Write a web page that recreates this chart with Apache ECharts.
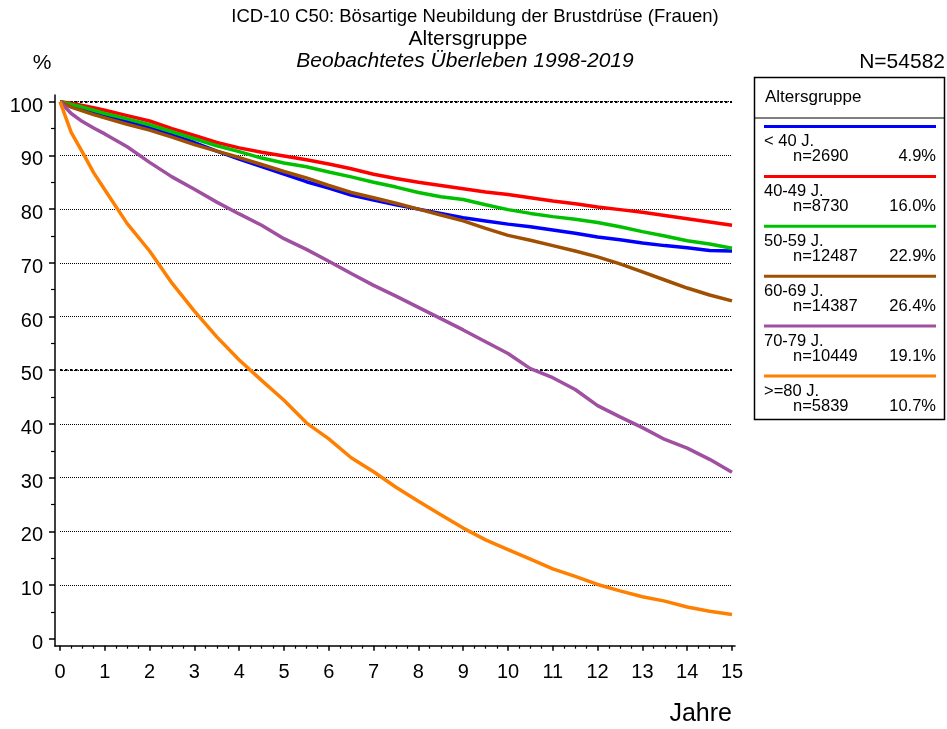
<!DOCTYPE html>
<html>
<head>
<meta charset="utf-8">
<script src="https://cdn.jsdelivr.net/npm/echarts@6/dist/echarts.min.js"></script>
<style>
html,body{margin:0;padding:0;background:#fff;}
#chart{width:947px;height:729px;}
</style>
</head>
<body>
<div id="chart"></div>
<script>
// ---- data ----
const years = [0,0.25,0.5,0.75,1,1.5,2,2.5,3,3.5,4,4.5,5,5.5,6,6.5,7,7.5,8,8.5,9,9.5,10,10.5,11,11.5,12,12.5,13,13.5,14,14.5,15];
const under40 = [100,99.4,98.8,98.1,97.4,96.3,95.1,93.8,92.4,90.8,89.3,87.9,86.5,85.1,83.9,82.6,81.7,80.8,80.0,79.2,78.4,77.8,77.2,76.7,76.1,75.5,74.8,74.3,73.7,73.2,72.8,72.3,72.2];
const age40_49 = [100,99.7,99.3,98.9,98.4,97.4,96.4,95.0,93.7,92.4,91.4,90.6,89.9,89.2,88.4,87.5,86.5,85.7,85.0,84.4,83.8,83.2,82.7,82.1,81.5,81.0,80.4,79.9,79.4,78.8,78.2,77.6,77.0];
const age50_59 = [100,99.5,99.0,98.4,97.8,96.8,95.7,94.4,93.1,91.8,90.7,89.5,88.6,87.9,86.9,86.0,85.0,84.1,83.1,82.3,81.8,80.8,79.9,79.2,78.6,78.1,77.5,76.7,75.8,75.0,74.1,73.5,72.7];
const age60_69 = [100,99.0,98.3,97.6,97.0,95.8,94.7,93.4,92.0,90.8,89.6,88.3,87.0,85.8,84.4,83.1,82.1,81.1,80.0,78.9,77.8,76.4,75.1,74.2,73.2,72.2,71.1,69.8,68.3,66.8,65.3,64.0,62.9];
const age70_79 = [100,97.8,96.3,95.1,94.0,91.6,88.7,86.0,83.7,81.3,79.1,77.0,74.5,72.5,70.3,68.0,65.8,63.8,61.7,59.6,57.5,55.3,53.1,50.3,48.6,46.4,43.4,41.3,39.3,37.1,35.5,33.4,31.0];
const age80plus = [100,94.3,90.6,86.8,83.6,77.3,72.2,66.2,61.0,56.2,51.9,48.1,44.4,40.2,37.2,33.7,31.1,28.2,25.6,23.1,20.6,18.4,16.6,14.8,13.0,11.6,10.1,8.9,7.8,7.0,5.9,5.1,4.5];

const groupLabels = ['< 40 J.','40-49 J.','50-59 J.','60-69 J.','70-79 J.','>=80 J.'];
const groupN = [2690, 8730, 12487, 14387, 10449, 5839];
const groupPct = ['4.9%','16.0%','22.9%','26.4%','19.1%','10.7%'];
const totalN = 54582;
const titleLines = ['ICD-10 C50: Bösartige Neubildung der Brustdrüse (Frauen)','Altersgruppe','Beobachtetes Überleben 1998-2019'];
const xName = 'Jahre';
const yName = '%';
const legendTitle = 'Altersgruppe';

// ---- styles ----
const seriesValues = [under40, age40_49, age50_59, age60_69, age70_79, age80plus];
const colors = ['#0000FF','#FF0000','#00C000','#A05000','#A050A0','#FF8000'];
const FONT = 'Liberation Sans, Arial, sans-serif';

const chart = echarts.init(document.getElementById('chart'), null, {renderer:'canvas'});

const series = seriesValues.map((vals, i) => ({
  type: 'line',
  name: groupLabels[i],
  xAxisIndex: 0, yAxisIndex: 0,
  data: years.map((t, k) => [t, vals[k]]),
  symbol: 'none',
  lineStyle: {color: colors[i], width: 3.5},
  itemStyle: {color: colors[i]},
  animation: false,
  z: 5 + i
}));

const graphics = [];
graphics.push({type:'text', x:475, y:17, style:{text:titleLines[0], fill:'#000', font:'18.5px ' + FONT, textAlign:'center', textVerticalAlign:'middle'}});
graphics.push({type:'text', x:468, y:39, style:{text:titleLines[1], fill:'#000', font:'21px ' + FONT, textAlign:'center', textVerticalAlign:'middle'}});
graphics.push({type:'text', x:465, y:61, style:{text:titleLines[2], fill:'#000', font:'italic 21px ' + FONT, textAlign:'center', textVerticalAlign:'middle'}});
graphics.push({type:'text', x:42, y:63, style:{text:yName, fill:'#000', font:'21px ' + FONT, textAlign:'center', textVerticalAlign:'middle'}});
graphics.push({type:'text', x:945, y:62, style:{text:'N=' + totalN, fill:'#000', font:'21px ' + FONT, textAlign:'right', textVerticalAlign:'middle'}});
graphics.push({type:'text', x:732, y:714, style:{text:xName, fill:'#000', font:'25px ' + FONT, textAlign:'right', textVerticalAlign:'middle'}});

// legend box
const LX = 754.5, LY = 77.5, LW = 190, LH = 342;
graphics.push({type:'rect', shape:{x:LX, y:LY, width:LW, height:LH}, style:{fill:'#fff', stroke:'#000', lineWidth:1.5}, z:10});
graphics.push({type:'text', x:765, y:97, style:{text:legendTitle, fill:'#000', font:'17px ' + FONT, textAlign:'left', textVerticalAlign:'middle'}, z:11});
graphics.push({type:'line', shape:{x1:LX, y1:118, x2:LX+LW, y2:118}, style:{stroke:'#000', lineWidth:1}, z:11});
groupLabels.forEach((lab, i) => {
  const y0 = 126.5 + i * 49.9;
  graphics.push({type:'line', shape:{x1:764, y1:y0, x2:936, y2:y0}, style:{stroke:colors[i], lineWidth:3}, z:11});
  graphics.push({type:'text', x:764, y:y0 + 15, style:{text:lab, fill:'#000', font:'16.5px ' + FONT, textAlign:'left', textVerticalAlign:'middle'}, z:11});
  graphics.push({type:'text', x:793, y:y0 + 30, style:{text:'n=' + groupN[i], fill:'#000', font:'16.5px ' + FONT, textAlign:'left', textVerticalAlign:'middle'}, z:11});
  graphics.push({type:'text', x:936, y:y0 + 30, style:{text:groupPct[i], fill:'#000', font:'16.5px ' + FONT, textAlign:'right', textVerticalAlign:'middle'}, z:11});
});

const thin = ['rgba(0,0,0,0)','#000','#000','#000','#000','#000','#000','#000','#000','#000','#000'];

const option = {
  backgroundColor: '#fff',
  animation: false,
  grid: [
    {left: 60, top: 101.7, width: 672, height: 537, containLabel: false},
    {left: 55, top: 95, width: 680, height: 551, containLabel: false}
  ],
  xAxis: [
    {type:'value', gridIndex:0, min:0, max:15, interval:1, offset:7, position:'bottom',
     axisLine:{show:false, onZero:false},
     axisTick:{show:true, length:5, lineStyle:{color:'#000', width:1.5}},
     minorTick:{show:true, splitNumber:4, length:3, lineStyle:{color:'#000', width:1.2}},
     axisLabel:{color:'#000', fontSize:20, fontFamily:FONT, margin:17},
     splitLine:{show:false}},
    {type:'value', gridIndex:1, min:0, max:1, position:'bottom',
     axisLine:{show:true, onZero:false, lineStyle:{color:'#000', width:1.5}},
     axisTick:{show:false}, axisLabel:{show:false}, splitLine:{show:false}}
  ],
  yAxis: [
    {type:'value', gridIndex:0, min:0, max:100, interval:10, offset:5, position:'left',
     axisLine:{show:false, onZero:false},
     axisTick:{show:true, length:6, lineStyle:{color:'#000', width:1.5}},
     minorTick:{show:true, splitNumber:2, length:4, lineStyle:{color:'#000', width:1.2}},
     axisLabel:{color:'#000', fontSize:20, fontFamily:FONT, margin:12, verticalAlign:'top', lineHeight:9},
     splitLine:{show:true, lineStyle:{color:thin, width:1, type:[1,1]}}},
    {type:'value', gridIndex:0, min:0, max:100, interval:50, position:'left',
     axisLine:{show:false, onZero:false}, axisTick:{show:false}, axisLabel:{show:false},
     splitLine:{show:true, lineStyle:{color:['rgba(0,0,0,0)','#000','#000'], width:2, type:[2.5,2.5]}}},
    {type:'value', gridIndex:1, min:0, max:1, position:'left',
     axisLine:{show:true, onZero:false, lineStyle:{color:'#000', width:1.5}},
     axisTick:{show:false}, axisLabel:{show:false}, splitLine:{show:false}}
  ],
  series: series,
  graphic: graphics
};
chart.setOption(option);
</script>
</body>
</html>
